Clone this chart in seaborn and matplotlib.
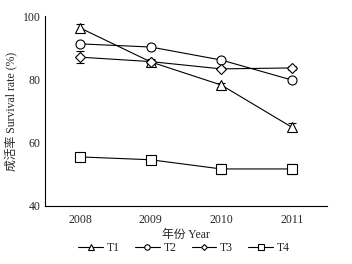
import matplotlib
matplotlib.use("Agg")
import matplotlib.pyplot as plt
import seaborn as sns
import pandas as pd
import numpy as np

years = [2008, 2009, 2010, 2011]
groups = ["T1", "T2", "T3", "T4"]
t1 = [96.2, 85.5, 78.2, 64.9]
t2 = [91.2, 90.2, 86.1, 79.8]
t3 = [87.0, 85.6, 83.3, 83.6]
t4 = [55.5, 54.6, 51.7, 51.7]
t1_err = [1.2, 1.0, 0.6, 1.3]
t2_err = [0.5, 0.5, 0.5, 0.5]
t3_err = [1.8, 0.6, 0.5, 0.5]
t4_err = [0.5, 0.5, 1.6, 1.6]
y_ticks = [40, 60, 80, 100]

sns.set_style("white")
plt.rcParams['font.family'] = ['Liberation Serif', 'Noto Sans CJK SC']

df = pd.DataFrame({
    "year": years * 4,
    "group": np.repeat(groups, 4),
    "rate": t1 + t2 + t3 + t4,
    "err": t1_err + t2_err + t3_err + t4_err,
})

fig = plt.figure(figsize=(3.52, 2.64), dpi=100)
ax = fig.add_axes([45/352, 1-206/264, (327-45)/352, (206-16)/264])

markers = {"T1": "^", "T2": "o", "T3": "D", "T4": "s"}
msizes = {"T1": 7, "T2": 6.5, "T3": 5, "T4": 6.5}
for g in groups:
    sub = df[df.group == g]
    ax.errorbar(sub.year, sub.rate, yerr=sub.err, fmt="none", ecolor="black",
                elinewidth=0.8, capsize=3, capthick=0.8, zorder=2)
    sns.lineplot(data=sub, x="year", y="rate", ax=ax, color="black", lw=0.8,
                 marker=markers[g], markersize=msizes[g], markerfacecolor="white",
                 markeredgecolor="black", markeredgewidth=0.8, label=g, zorder=3)

ax.set_xlim(2007.5, 2011.5)
ax.set_ylim(40, 100)
ax.set_xticks(years)
ax.set_xticklabels([str(y) for y in years])
ax.set_yticks(y_ticks)
ax.tick_params(axis="y", direction="in", length=3, width=0.8, labelsize=8.5, pad=3)
ax.tick_params(axis="x", length=0, labelsize=8.5, pad=6)
for s in ["top", "right"]:
    ax.spines[s].set_visible(False)
for s in ["left", "bottom"]:
    ax.spines[s].set_linewidth(0.8)
    ax.spines[s].set_color("black")
ax.set_xlabel("年份 Year", fontsize=8.5, labelpad=2)
ax.set_ylabel("成活率 Survival rate (%)", fontsize=8.5, labelpad=4)

handles, labels = ax.get_legend_handles_labels()
if ax.legend_:
    ax.legend_.remove()
fig.legend(handles, labels, loc="center", bbox_to_anchor=(184/352, 1-248/264), ncol=4,
           frameon=False, fontsize=8.5, handlelength=2.1, columnspacing=1.3,
           handletextpad=0.3, markerscale=0.6)

fig.savefig("out.png", dpi=100)
